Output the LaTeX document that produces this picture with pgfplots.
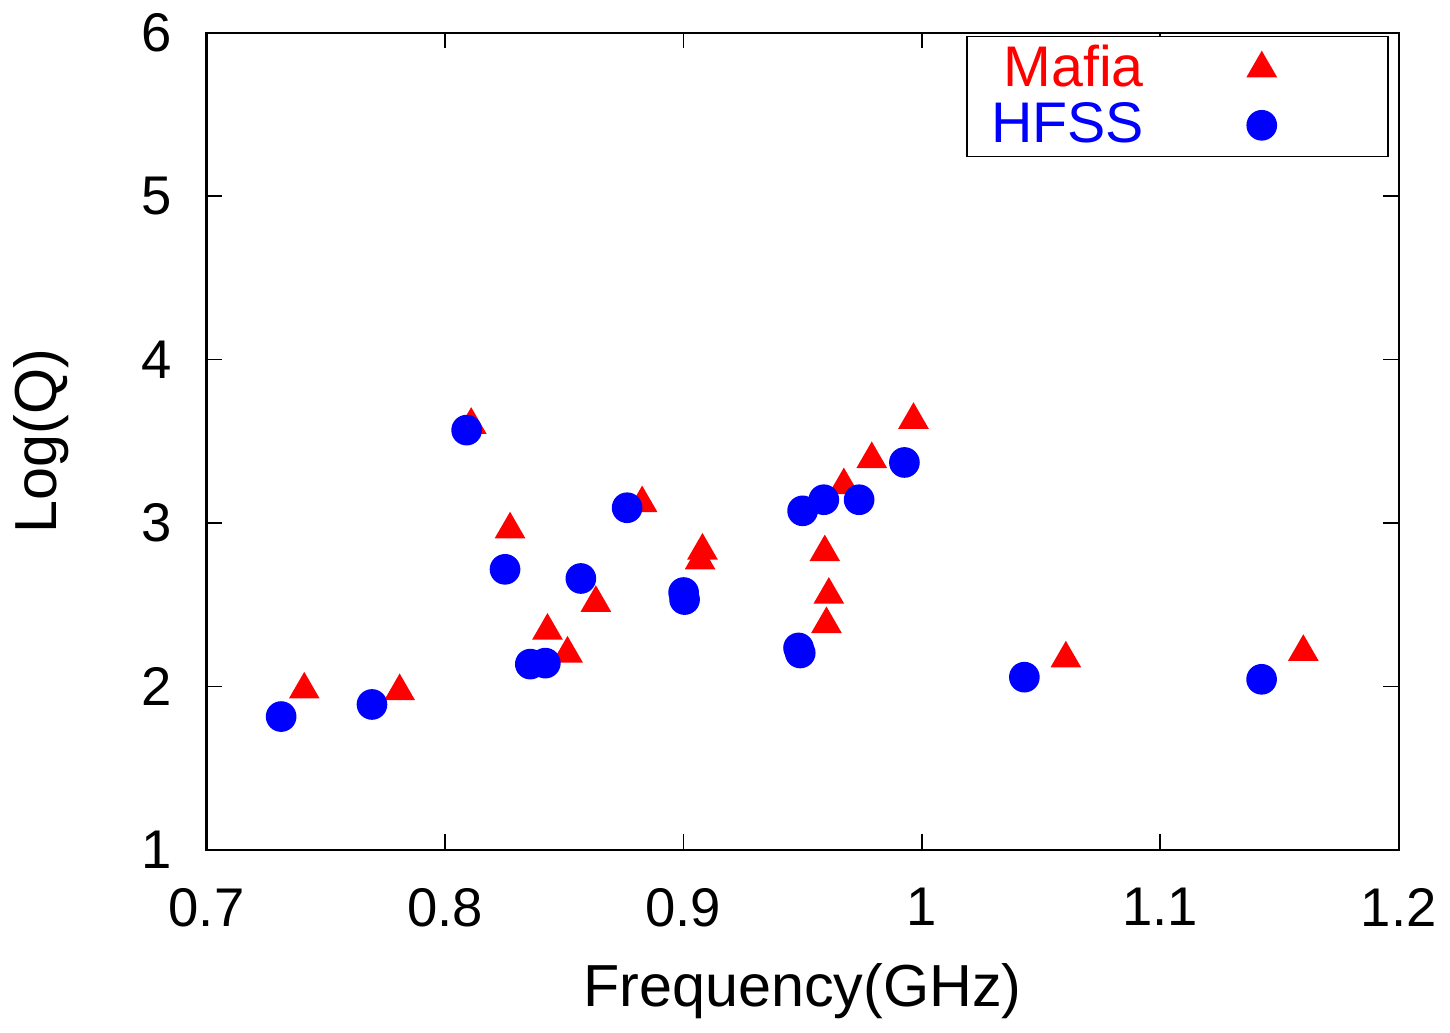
\documentclass[border=0pt]{standalone}
\usepackage{fontspec}
\setmainfont{Liberation Sans}
\usepackage{pgfplots}
\pgfplotsset{compat=1.18}

\pgfplotsset{
  wideleg/.style={legend image code/.code={%
    \path (0cm,0cm) (1.9cm,0cm);
    \draw[mark repeat=2,mark phase=2,##1] plot coordinates {(0cm,0cm)(0.95cm,0cm)(1.9cm,0cm)};}},
}

\begin{document}
\begin{tikzpicture}
\begin{axis}[
  scale only axis,
  width=295.5pt, height=202.5pt,
  xmin=0.7, xmax=1.2, ymin=1, ymax=6,
  xtick={0.7,0.8,...,1.2}, ytick={1,2,...,6},
  /pgf/number format/assume math mode=true,
  xticklabel style={/pgf/number format/fixed, /pgf/number format/precision=1, yshift=-6pt},
  yticklabel style={xshift=-5pt},
  tick label style={font=\fontsize{13.5}{15}\selectfont},
  xlabel={Frequency(GHz)}, ylabel={Log(Q)},
  every axis x label/.style={at={([yshift=-35pt]axis description cs:0.5,0)}, anchor=center,
    font=\fontsize{14.7}{16}\selectfont},
  every axis y label/.style={at={([xshift=-41pt]axis description cs:0,0.5)}, anchor=center, rotate=90,
    font=\fontsize{14.7}{16}\selectfont},
  tick align=inside, tick pos=both,
  major tick length=3.8pt,
  every tick/.style={black, line width=0.4pt},
  axis line style={line width=0.6pt},
  legend cell align=right,
  legend plot pos=right,
  legend style={at={(0.9915,0.9963)}, anchor=north east, draw=black, line width=0.4pt,
    font=\fontsize{14.2}{15}\selectfont, row sep=-1.5pt, inner xsep=4pt, inner ysep=0pt},
]
\addplot[only marks, mark=triangle*, mark size=4pt, color=red, wideleg] coordinates {
  (0.741,1.98) (0.781,1.97) (0.811,3.60) (0.8273,2.96) (0.843,2.34)
  (0.8514,2.20) (0.8633,2.51) (0.8827,3.12) (0.908,2.83) (0.907,2.77)
  (0.9965,3.63) (0.979,3.39) (0.9673,3.23) (0.9593,2.82) (0.961,2.56)
  (0.960,2.38) (1.0604,2.17) (1.160,2.21)
};
\addlegendentry{\textcolor{red}{Mafia}}
\addplot[only marks, mark=*, mark size=3.6pt, color=blue, wideleg] coordinates {
  (0.7313,1.815) (0.7694,1.889) (0.8091,3.568) (0.8252,2.716) (0.8358,2.136)
  (0.8421,2.142) (0.857,2.660) (0.8764,3.093) (0.9001,2.574) (0.9005,2.531)
  (0.950,3.074) (0.9589,3.142) (0.9737,3.142) (0.9927,3.370) (0.9483,2.235)
  (0.949,2.204) (1.043,2.056) (1.1425,2.043)
};
\addlegendentry{\textcolor{blue}{HFSS}}
\end{axis}
\end{tikzpicture}
\end{document}
